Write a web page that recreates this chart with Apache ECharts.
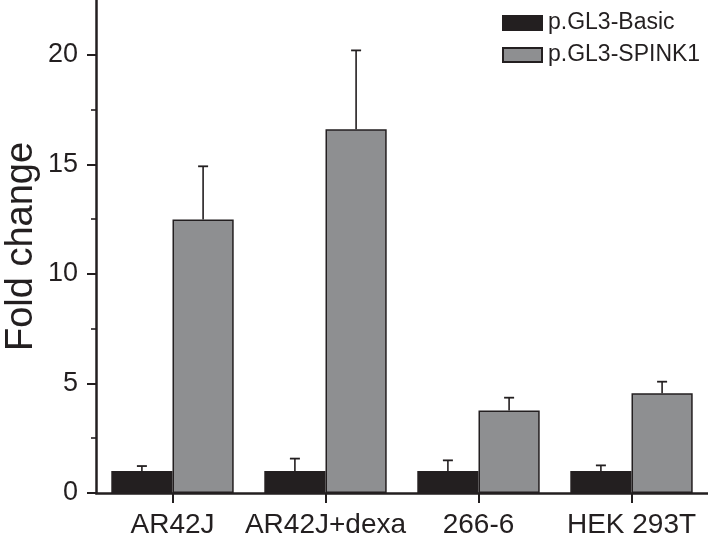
<!DOCTYPE html>
<html>
<head>
<meta charset="utf-8">
<script src="https://cdn.jsdelivr.net/npm/echarts@6/dist/echarts.min.js"></script>
<style>
html,body{margin:0;padding:0;background:#fff;}
#chart{width:708px;height:545px;}
</style>
</head>
<body>
<div id="chart"></div>
<script>
const categories = ['AR42J', 'AR42J+dexa', '266-6', 'HEK 293T'];
const basicValues = [1.0, 1.0, 1.0, 1.0];
const basicErrors = [0.23, 0.57, 0.49, 0.26];
const spinkValues = [12.48, 16.6, 3.77, 4.55];
const spinkErrors = [2.43, 3.6, 0.58, 0.53];
const majorTicks = [0, 5, 10, 15, 20];
const minorTicks = [2.5, 7.5, 12.5, 17.5];

const ink = '#231f20';
const grey = '#8e8f91';
const font = "'Liberation Sans', Arial, Helvetica, sans-serif";

function errorSeries(name, values, errors, side) {
  return {
    type: 'custom',
    name: name,
    z: 5,
    silent: true,
    data: values.map((v, i) => [i, v, errors[i]]),
    renderItem: function (params, api) {
      const idx = api.value(0);
      const v = api.value(1);
      const e = api.value(2);
      const band = api.size([1, 0])[0];
      const base = api.coord([idx, v]);
      const top = api.coord([idx, v + e]);
      const x = base[0] + side * band * 0.2;
      const cap = 5;
      return {
        type: 'group',
        children: [
          { type: 'line', shape: { x1: x, y1: base[1], x2: x, y2: top[1] }, style: { stroke: ink, lineWidth: 1.6 } },
          { type: 'line', shape: { x1: x - cap, y1: top[1], x2: x + cap, y2: top[1] }, style: { stroke: ink, lineWidth: 1.8 } }
        ]
      };
    }
  };
}

const chart = echarts.init(document.getElementById('chart'));
chart.setOption({
  animation: false,
  backgroundColor: '#fff',
  textStyle: { fontFamily: font, color: ink },
  grid: { left: 96, right: 0, top: 0, bottom: 52, containLabel: false, outerBoundsMode: 'none' },
  legend: {
    data: ['p.GL3-Basic', 'p.GL3-SPINK1'],
    orient: 'vertical',
    left: 502,
    top: 11,
    padding: 0,
    itemWidth: 39,
    itemHeight: 14,
    itemGap: 8,
    icon: 'rect',
    textStyle: { fontFamily: font, fontSize: 23, lineHeight: 24, color: ink, padding: [0, 0, 0, 1] }
  },
  xAxis: {
    type: 'category',
    data: categories,
    boundaryGap: true,
    axisLine: { show: true, lineStyle: { color: ink, width: 2.5 } },
    axisTick: { show: true, alignWithLabel: true, length: 10, lineStyle: { color: ink, width: 2 } },
    axisLabel: { fontFamily: font, fontSize: 28, color: ink, margin: 18, interval: 0 }
  },
  yAxis: [
    {
      type: 'value',
      position: 'left',
      min: 0,
      max: 22.5,
      name: 'Fold change',
      nameLocation: 'middle',
      nameRotate: 90,
      nameGap: 55,
      nameMoveOverlap: false,
      nameTextStyle: { fontFamily: font, fontSize: 38, color: ink },
      splitLine: { show: false },
      axisLine: { show: true, lineStyle: { color: ink, width: 2.5 } },
      axisTick: { show: true, customValues: majorTicks, length: 9, lineStyle: { color: ink, width: 2 } },
      axisLabel: { customValues: majorTicks, fontFamily: font, fontSize: 27, color: ink, margin: 18 }
    },
    {
      type: 'value',
      position: 'left',
      min: 0,
      max: 22.5,
      splitLine: { show: false },
      axisLine: { show: false },
      axisTick: { show: true, customValues: minorTicks, length: 5, lineStyle: { color: ink, width: 1.6 } },
      axisLabel: { show: false }
    }
  ],
  series: [
    {
      name: 'p.GL3-Basic',
      type: 'bar',
      barWidth: '40%',
      barGap: '0%',
      data: basicValues,
      itemStyle: { color: ink, borderColor: ink, borderWidth: 1.5 }
    },
    {
      name: 'p.GL3-SPINK1',
      type: 'bar',
      barWidth: '40%',
      barGap: '0%',
      data: spinkValues,
      itemStyle: { color: grey, borderColor: ink, borderWidth: 1.5 }
    },
    errorSeries('errBasic', basicValues, basicErrors, -1),
    errorSeries('errSpink', spinkValues, spinkErrors, 1)
  ]
});
</script>
</body>
</html>
